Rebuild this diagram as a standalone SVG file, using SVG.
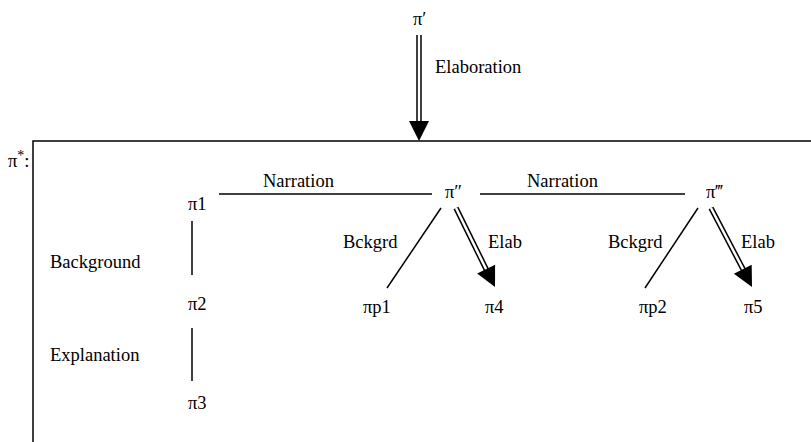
<svg xmlns="http://www.w3.org/2000/svg" xmlns:xlink="http://www.w3.org/1999/xlink" width="811" height="442" viewBox="0 0 811 442">
<style>
text{font-size:18.5px;fill:#000}
.ln{stroke:#000;stroke-width:1.5;fill:none}
.dbl-o{stroke:#000;stroke-width:5.5;fill:none}
.dbl-i{stroke:#fff;stroke-width:2.5;fill:none}
</style>
<defs>
<path id="ah" d="M0,0 L-20,-10 L-20,10 Z" fill="#000"/>
</defs>
<rect width="811" height="442" fill="#fff"/>
<g font-family="'Liberation Serif', 'DejaVu Serif', serif">
<g id="box">
<rect class="ln" x="33" y="141" width="800" height="320"/>
<text x="8" y="167">π<tspan dy="-7" font-size="14">*</tspan><tspan dy="7">:</tspan></text>
</g>
<g id="connectors">
<g id="elaboration-top">
<line class="dbl-o" x1="419" y1="35" x2="419" y2="124"/>
<line class="dbl-i" x1="419" y1="35" x2="419" y2="124"/>
<use xlink:href="#ah" transform="translate(419,141) rotate(90)"/>
</g>
<line class="ln" x1="219" y1="194" x2="432" y2="194"/>
<line class="ln" x1="480" y1="194" x2="685" y2="194"/>
<line class="ln" x1="192" y1="221" x2="192" y2="275"/>
<line class="ln" x1="192" y1="328" x2="192" y2="381"/>
<line class="ln" x1="441" y1="208" x2="387" y2="288"/>
<line class="ln" x1="698" y1="208" x2="645" y2="288"/>
<g id="elab1">
<line class="dbl-o" x1="456" y1="208" x2="487" y2="271"/>
<line class="dbl-i" x1="456" y1="208" x2="487" y2="271"/>
<use xlink:href="#ah" transform="translate(495,287) rotate(63.7)"/>
</g>
<g id="elab2">
<line class="dbl-o" x1="711" y1="208" x2="744" y2="271"/>
<line class="dbl-i" x1="711" y1="208" x2="744" y2="271"/>
<use xlink:href="#ah" transform="translate(752,287) rotate(62.6)"/>
</g>
</g>
<g id="labels">
<text x="435" y="73">Elaboration</text>
<text x="263" y="187">Narration</text>
<text x="527" y="187">Narration</text>
<text x="50" y="268">Background</text>
<text x="50" y="361">Explanation</text>
<text x="343" y="248">Bckgrd</text>
<text x="488" y="248">Elab</text>
<text x="608" y="248">Bckgrd</text>
<text x="741" y="248">Elab</text>
</g>
<g id="n-pi-prime"><text x="413" y="25">π′</text></g>
<g id="n-pi1"><text x="188" y="210">π1</text></g>
<g id="n-pi2"><text x="188" y="310">π2</text></g>
<g id="n-pi3"><text x="188" y="409">π3</text></g>
<g id="n-pi-dprime"><text x="445" y="198">π″</text></g>
<g id="n-pi-tprime"><text x="706" y="198">π‴</text></g>
<g id="n-pip1"><text x="363" y="313">πp1</text></g>
<g id="n-pi4"><text x="485" y="313">π4</text></g>
<g id="n-pip2"><text x="639" y="313">πp2</text></g>
<g id="n-pi5"><text x="744" y="313">π5</text></g>
</g>
</svg>
